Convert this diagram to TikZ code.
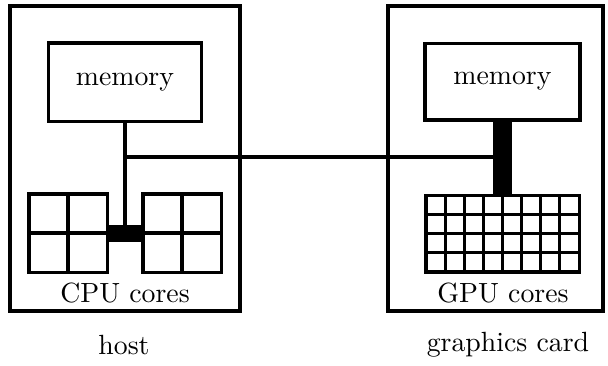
\documentclass[tikz,border=0pt]{standalone}
\usepackage{tikz}
\usetikzlibrary{calc}

\begin{document}
\begin{tikzpicture}[
  x=0.36pt,y=-0.36pt,
  unit/.style={draw,line width=1.1pt,outer sep=0pt,inner sep=0pt},
  wire/.style={line width=1.1pt},
  link/.style={fill=black,draw=none,outer sep=0pt,inner sep=0pt}
]
\useasboundingbox (0,0) rectangle (608,365);
% host side
\node[unit,minimum width=82.8pt,minimum height=109.8pt] (host) at (125,158.5) {};
\node[unit,minimum width=55.4pt,minimum height=28.1pt] (hostmem) at (125,82) {memory};
\node[unit,minimum size=28.1pt] (cpua) at (68,233) {};
\node[unit,minimum size=28.1pt] (cpub) at (182,233) {};
\node[link,minimum width=13pt,minimum height=6.1pt] (cpulink) at (125,233.5) {};
\node (cpulabel) at (125,293) {CPU cores};
\node (hostlabel) at (124,345) {host};
% graphics card side
\node[unit,minimum width=77.4pt,minimum height=109.8pt] (card) at (495.5,158.5) {};
\node[unit,minimum width=55.8pt,minimum height=27.7pt] (cardmem) at (502.5,81.5) {memory};
\node[unit,minimum width=55.1pt,minimum height=27.7pt] (gpu) at (502.5,233.5) {};
\node (gpulabel) at (503,293) {GPU cores};
\node (cardlabel) at (508,345) {graphics card};
% core grids
\foreach \blk in {cpua,cpub}{
  \draw[wire] (\blk.north) -- (\blk.south);
  \draw[wire] (\blk.west) -- (\blk.east);
}
\foreach \i in {1,...,7}
  \draw[wire] ($(gpu.north west)!\i/8!(gpu.north east)$) -- ($(gpu.south west)!\i/8!(gpu.south east)$);
\foreach \j in {1,2,3}
  \draw[wire] ($(gpu.north west)!\j/4!(gpu.south west)$) -- ($(gpu.north east)!\j/4!(gpu.south east)$);
% connections
\draw[wire] (hostmem.south) -- (cpulink.north);
\coordinate (tap) at (125,157);
\draw[wire] (tap) -- (tap -| cardmem.south);
\draw[line width=6.5pt] (cardmem.south) -- (gpu.north);
\end{tikzpicture}
\end{document}
